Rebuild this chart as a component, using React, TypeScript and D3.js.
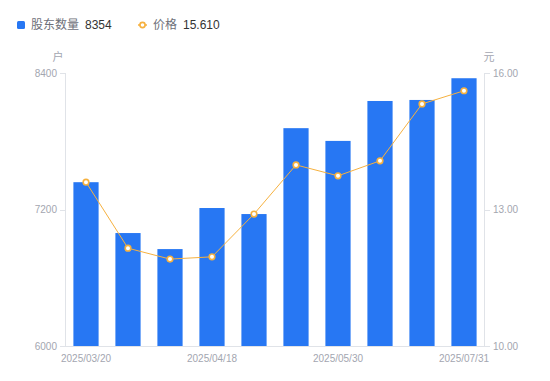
import React from "react";
import * as d3 from "d3";

const dates = ["2025/03/20","2025/03/28","2025/04/10","2025/04/18","2025/04/30","2025/05/20","2025/05/30","2025/06/20","2025/06/30","2025/07/31"];
const holders = [7440, 6993, 6852, 7213, 7160, 7915, 7803, 8154, 8163, 8354];
const prices = [13.60, 12.15, 11.91, 11.96, 12.90, 13.98, 13.74, 14.07, 15.32, 15.61];
const leftTicks = [6000, 7200, 8400];
const rightTicks = [10, 13, 16];
const xLabelIdx = [0, 3, 6, 9];

const W = 550, H = 381;
const M = { left: 65, right: 485, top: 73, bottom: 346 };
const FONT = "'Liberation Sans', 'Noto Sans CJK SC', Arial, sans-serif";
const BLUE = "#2777f3";
const ORANGE = "#f6b13f";
const AXIS = "#e0e3e8";
const LABEL = "#a3a6b0";

export default function App() {
  const x = d3.scaleBand<string>().domain(dates).range([M.left, M.right]).paddingInner(0.4).paddingOuter(0.2);
  const yL = d3.scaleLinear().domain([6000, 8400]).range([M.bottom, M.top]);
  const yR = d3.scaleLinear().domain([10, 16]).range([M.bottom, M.top]);
  const cx = (d: string) => (x(d) as number) + x.bandwidth() / 2;
  const line = d3.line<number>().x((_, i) => cx(dates[i])).y((v) => yR(v));

  return (
    <svg width={W} height={H} style={{ position: "absolute", left: 0, top: 0, fontFamily: FONT }}>
      <rect width={W} height={H} fill="#fff" />
      {/* legend */}
      <rect x={17} y={21} width={8} height={8} rx={1.5} fill={BLUE} />
      <text x={31} y={25} dominantBaseline="central" fontSize={12} fill="#6e7079">股东数量</text>
      <text x={85} y={25} dominantBaseline="central" fontSize={12} fill="#333">{holders[holders.length - 1]}</text>
      <line x1={138} x2={147} y1={25} y2={25} stroke={ORANGE} strokeWidth={1.5} />
      <circle cx={142.5} cy={25} r={2.6} fill="#fff" stroke={ORANGE} strokeWidth={1.6} />
      <text x={153} y={25} dominantBaseline="central" fontSize={12} fill="#6e7079">价格</text>
      <text x={183} y={25} dominantBaseline="central" fontSize={12} fill="#333">{prices[prices.length - 1].toFixed(3)}</text>

      {/* units */}
      <text x={58} y={57} textAnchor="middle" dominantBaseline="central" fontSize={11} fill={LABEL}>户</text>
      <text x={489} y={57} textAnchor="middle" dominantBaseline="central" fontSize={11} fill={LABEL}>元</text>

      {/* axes */}
      <line x1={M.left + 0.5} x2={M.left + 0.5} y1={M.top} y2={M.bottom} stroke={AXIS} />
      <line x1={M.right - 0.5} x2={M.right - 0.5} y1={M.top} y2={M.bottom} stroke={AXIS} />
      <line x1={M.left} x2={M.right} y1={M.bottom + 0.5} y2={M.bottom + 0.5} stroke={AXIS} />
      {leftTicks.map((t) => (
        <g key={"l" + t}>
          <line x1={M.left - 5} x2={M.left} y1={Math.round(yL(t)) + 0.5} y2={Math.round(yL(t)) + 0.5} stroke={AXIS} />
          <text x={M.left - 8} y={yL(t)} textAnchor="end" dominantBaseline="central" fontSize={10} fill={LABEL}>{t}</text>
        </g>
      ))}
      {rightTicks.map((t) => (
        <g key={"r" + t}>
          <line x1={M.right} x2={M.right + 5} y1={Math.round(yR(t)) + 0.5} y2={Math.round(yR(t)) + 0.5} stroke={AXIS} />
          <text x={M.right + 8} y={yR(t)} textAnchor="start" dominantBaseline="central" fontSize={10} fill={LABEL}>{t.toFixed(2)}</text>
        </g>
      ))}
      {xLabelIdx.map((i) => (
        <text key={"x" + i} x={cx(dates[i])} y={358} textAnchor="middle" dominantBaseline="central" fontSize={10} fill={LABEL}>{dates[i]}</text>
      ))}

      {/* bars */}
      {holders.map((v, i) => (
        <rect key={"b" + i} x={x(dates[i])} y={yL(v)} width={x.bandwidth()} height={M.bottom - yL(v)} fill={BLUE} />
      ))}

      {/* price line */}
      <path d={line(prices) || ""} fill="none" stroke={ORANGE} strokeWidth={1} />
      {prices.map((v, i) => (
        <circle key={"p" + i} cx={cx(dates[i])} cy={yR(v)} r={2.8} fill="#fff" stroke={ORANGE} strokeWidth={1.6} />
      ))}
    </svg>
  );
}
